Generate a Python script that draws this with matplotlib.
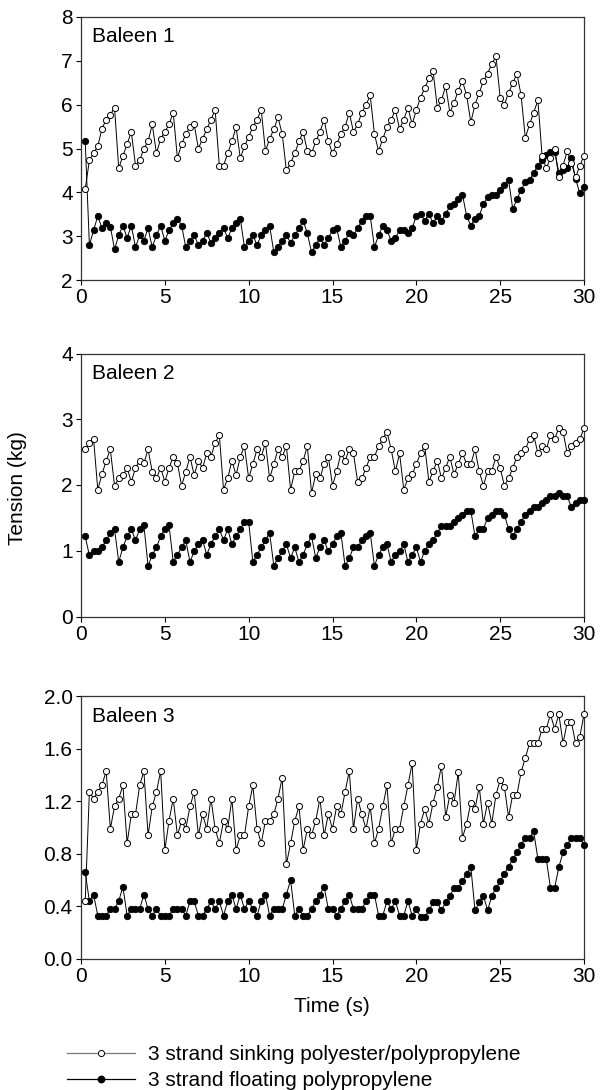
import numpy as np
import matplotlib
matplotlib.use('Agg')
import matplotlib.pyplot as plt
from matplotlib.lines import Line2D

plt.rcParams['font.family'] = ['Liberation Sans', 'DejaVu Sans']

# sample times (s): 0.25 s sampling, 120 samples
time_s = np.arange(1, 121) * 0.25

b1_sinking = [4.07, 4.73, 4.9, 5.05, 5.45, 5.66, 5.77, 5.93,
              4.55, 4.83, 5.1, 5.38,
              4.61, 4.73, 5.0, 5.16, 5.55,
              4.89, 5.22, 5.38, 5.55, 5.82,
              4.78, 5.1, 5.33, 5.49, 5.55,
              5.0, 5.22, 5.44, 5.66, 5.88,
              4.61, 4.61, 4.89, 5.16, 5.49,
              4.78, 5.05, 5.27, 5.49, 5.66, 5.88,
              4.94, 5.22, 5.44, 5.71, 5.33,
              4.5, 4.67, 4.89, 5.16, 5.38,
              4.94, 4.89, 5.16, 5.38, 5.66,
              5.16, 4.89, 5.1, 5.33, 5.49, 5.82,
              5.38, 5.55, 5.82, 6.0, 6.21,
              5.33, 4.94, 5.22, 5.49, 5.66, 5.88,
              5.44, 5.66, 5.93, 5.55, 5.88, 6.16, 6.38, 6.6, 6.77,
              5.93, 6.1, 6.43, 5.82, 6.04, 6.32, 6.54, 6.21, 5.6,
              6.0, 6.27, 6.54, 6.71, 6.93, 7.1,
              6.16, 6.0, 6.27, 6.49, 6.71, 6.21,
              5.24, 5.55, 5.82, 6.1,
              4.83, 4.55, 4.78, 5.0, 4.34, 4.61, 4.94, 4.67, 4.34, 4.61, 4.83]
b1_floating = [5.17, 2.8, 3.13, 3.46, 3.18, 3.3, 3.22, 2.7,
               3.02, 3.24, 2.96, 3.24, 2.75, 3.02, 2.9, 3.18, 2.75, 3.02, 3.24, 2.9, 3.13, 3.29, 3.4, 3.24,
               2.75, 2.9, 3.02, 2.8, 2.9, 3.07, 2.85, 2.96, 3.07, 3.18, 2.96, 3.18, 3.29, 3.4,
               2.75, 2.9, 3.02, 2.8, 3.02, 3.13, 3.24,
               2.63, 2.75, 2.9, 3.02, 2.85, 3.02, 3.18, 3.35, 3.07,
               2.63, 2.8, 2.96, 2.8, 2.96, 3.13, 3.18,
               2.75, 2.9, 3.07, 3.02, 3.18, 3.35, 3.46, 3.46,
               2.75, 3.02, 3.24, 3.13, 2.9, 2.96, 3.13, 3.13, 3.07, 3.18,
               3.46, 3.51, 3.35, 3.51, 3.29, 3.46, 3.35, 3.51, 3.68, 3.73, 3.84, 3.95,
               3.46, 3.24, 3.4, 3.46, 3.73, 3.89, 3.95, 3.95, 4.06, 4.17, 4.28,
               3.62, 3.84, 4.06, 4.23, 4.28, 4.45, 4.61, 4.74, 4.85, 4.93, 4.93,
               4.45, 4.5, 4.55, 4.78, 4.3, 3.98, 4.12]

b2_sinking = [2.54, 2.64, 2.7, 1.93, 2.16, 2.37, 2.54, 1.99, 2.1, 2.15,
              2.26, 2.05, 2.26, 2.37, 2.33, 2.54, 2.2, 2.1, 2.26, 2.05,
              2.26, 2.43, 2.33, 1.99, 2.2, 2.43, 2.15, 2.37, 2.26, 2.48,
              2.43, 2.64, 2.76, 1.93, 2.1, 2.37, 2.15, 2.43, 2.59, 2.1,
              2.32, 2.54, 2.43, 2.64, 2.1, 2.32, 2.54, 2.43, 2.59, 1.93,
              2.21, 2.21, 2.37, 2.59, 1.88, 2.16, 2.1, 2.32, 2.43, 1.99,
              2.21, 2.48, 2.37, 2.54, 2.48, 2.05, 2.1, 2.26, 2.43, 2.43,
              2.59, 2.7, 2.81, 2.54, 2.21, 2.48, 1.93, 2.1, 2.16, 2.32,
              2.48, 2.59, 2.05, 2.21, 2.37, 2.1, 2.26, 2.43, 2.16, 2.32,
              2.48, 2.32, 2.32, 2.54, 2.21, 1.99, 2.21, 2.21, 2.43, 2.26,
              1.99, 2.1, 2.26, 2.43, 2.48, 2.54, 2.7, 2.76, 2.48, 2.59,
              2.54, 2.76, 2.7, 2.87, 2.81, 2.48, 2.59, 2.64, 2.7, 2.86]
b2_floating = [1.22, 0.93, 0.99, 0.99, 1.05, 1.16, 1.27, 1.33, 0.83, 1.05,
               1.22, 1.33, 1.16, 1.33, 1.39, 0.77, 0.94, 1.05, 1.22, 1.33,
               1.39, 0.83, 0.94, 1.05, 1.16, 0.83, 0.99, 1.1, 1.16, 0.94,
               1.1, 1.22, 1.33, 1.16, 1.33, 1.1, 1.22, 1.33, 1.44, 1.44,
               0.83, 0.94, 1.05, 1.16, 1.27, 0.77, 0.89, 0.99, 1.1, 0.89,
               1.05, 0.83, 0.94, 1.1, 1.22, 0.89, 1.05, 1.16, 0.99, 1.1,
               1.22, 1.27, 0.77, 0.89, 1.05, 1.05, 1.16, 1.22, 1.27, 0.77,
               0.94, 1.05, 1.1, 0.83, 0.94, 0.99, 1.1, 0.83, 0.94, 1.05,
               0.83, 1.0, 1.1, 1.16, 1.27, 1.38, 1.38, 1.38, 1.44, 1.5,
               1.55, 1.61, 1.61, 1.22, 1.33, 1.33, 1.5, 1.55, 1.61, 1.61,
               1.55, 1.33, 1.22, 1.33, 1.44, 1.55, 1.61, 1.66, 1.66, 1.72,
               1.77, 1.83, 1.83, 1.88, 1.83, 1.83, 1.66, 1.72, 1.77, 1.77]

b3_sinking = [0.44, 1.27, 1.22, 1.27, 1.32, 1.43, 0.99, 1.16, 1.22, 1.32,
              0.88, 1.1, 1.1, 1.32, 1.43, 0.94, 1.16, 1.27, 1.43, 0.83,
              1.05, 1.22, 0.94, 1.05, 0.99, 1.16, 1.27, 0.94, 1.1, 0.99,
              1.22, 0.99, 0.88, 1.05, 0.99, 1.22, 0.83, 0.94, 0.94, 1.16,
              1.32, 0.99, 0.88, 1.05, 1.05, 1.1, 1.22, 1.38, 0.72, 0.88,
              1.05, 1.16, 0.83, 0.99, 0.94, 1.05, 1.22, 0.94, 1.1, 0.99,
              1.16, 1.1, 1.27, 1.43, 0.99, 1.22, 1.1, 0.99, 1.16, 0.88,
              0.99, 1.16, 1.32, 0.88, 0.99, 0.99, 1.16, 1.32, 1.49, 0.83,
              1.03, 1.14, 1.03, 1.19, 1.31, 1.47, 1.08, 1.25, 1.19, 1.42,
              0.92, 1.03, 1.19, 1.14, 1.31, 1.03, 1.19, 1.03, 1.25, 1.36,
              1.31, 1.08, 1.25, 1.25, 1.42, 1.53, 1.64, 1.64, 1.64, 1.75,
              1.75, 1.86, 1.75, 1.86, 1.64, 1.8, 1.8, 1.64, 1.69, 1.86]
b3_floating = [0.66, 0.44, 0.49, 0.33, 0.33, 0.33, 0.38, 0.38, 0.44, 0.55,
               0.33, 0.38, 0.38, 0.38, 0.49, 0.38, 0.33, 0.38, 0.33, 0.33,
               0.33, 0.38, 0.38, 0.38, 0.33, 0.44, 0.44, 0.33, 0.33, 0.38,
               0.44, 0.38, 0.44, 0.33, 0.44, 0.49, 0.38, 0.49, 0.38, 0.44,
               0.38, 0.33, 0.44, 0.49, 0.33, 0.38, 0.38, 0.38, 0.49, 0.6,
               0.33, 0.38, 0.33, 0.33, 0.38, 0.44, 0.49, 0.55, 0.38, 0.38,
               0.33, 0.38, 0.44, 0.49, 0.38, 0.38, 0.38, 0.44, 0.49, 0.49,
               0.33, 0.33, 0.44, 0.38, 0.44, 0.33, 0.33, 0.44, 0.33, 0.38,
               0.32, 0.32, 0.37, 0.43, 0.43, 0.37, 0.43, 0.48, 0.54, 0.54,
               0.59, 0.65, 0.7, 0.37, 0.43, 0.48, 0.37, 0.48, 0.54, 0.59,
               0.65, 0.7, 0.76, 0.81, 0.87, 0.92, 0.92, 0.97, 0.76, 0.76,
               0.76, 0.54, 0.54, 0.7, 0.81, 0.87, 0.92, 0.92, 0.92, 0.87]

panel_titles = ['Baleen 1', 'Baleen 2', 'Baleen 3']
sinking_series = [b1_sinking, b2_sinking, b3_sinking]
floating_series = [b1_floating, b2_floating, b3_floating]
y_limits = [(2, 8), (0, 4), (0, 2.0)]
y_ticks = [[2, 3, 4, 5, 6, 7, 8], [0, 1, 2, 3, 4], [0.0, 0.4, 0.8, 1.2, 1.6, 2.0]]
y_fmt = ['{:.0f}', '{:.0f}', '{:.1f}']
x_ticks = [0, 5, 10, 15, 20, 25, 30]
legend_labels = ['3 strand sinking polyester/polypropylene',
                 '3 strand floating polypropylene']

W, H = 600, 1090
fig = plt.figure(figsize=(W / 100, H / 100), dpi=100)

FS = 15
left_px, right_px = 81, 584
panel_h = 263
tops = [17, 353.5, 696]

for i in range(3):
    top = tops[i]
    ax = fig.add_axes([left_px / W, 1 - (top + panel_h) / H,
                       (right_px - left_px) / W, panel_h / H])
    ax.plot(time_s, floating_series[i], '-o', color='black', lw=0.7, ms=4.6,
            mfc='black', mec='black', mew=0.6, clip_on=False, zorder=3)
    ax.plot(time_s, sinking_series[i], '-o', color='black', lw=0.7, ms=4.4,
            mfc='white', mec='black', mew=0.7, clip_on=False, zorder=4)
    ax.set_xlim(0, 30)
    ax.set_ylim(*y_limits[i])
    ax.set_xticks(x_ticks)
    ax.set_xticklabels([str(x) for x in x_ticks])
    ax.set_yticks(y_ticks[i])
    ax.set_yticklabels([y_fmt[i].format(v) for v in y_ticks[i]])
    ax.tick_params(direction='out', length=3.5, width=0.8, labelsize=FS,
                   pad=2.5, top=False, right=False, colors='black')
    for s in ax.spines.values():
        s.set_linewidth(0.9)
        s.set_color('#333333')
    ax.text(11 / (right_px - left_px), 1 - 20 / panel_h, panel_titles[i],
            transform=ax.transAxes, ha='left', va='center', fontsize=FS)

fig.text(18 / W, 1 - 488 / H, 'Tension (kg)', rotation=90, ha='center',
         va='center', fontsize=FS)
fig.text(332 / W, 1 - 1006 / H, 'Time (s)', ha='center', va='center',
         fontsize=FS)

h1 = Line2D([], [], color='#777777', lw=0.9, marker='o', ms=4.4,
            mfc='white', mec='black', mew=0.7)
h2 = Line2D([], [], color='black', lw=0.9, marker='o', ms=4.6,
            mfc='black', mec='black')
fig.legend([h1, h2], legend_labels, loc='upper left',
           bbox_to_anchor=(67 / W, 1 - 1045 / H), frameon=False,
           handlelength=3.27, handletextpad=0.6, labelspacing=0.34,
           borderpad=0, borderaxespad=0, fontsize=FS, numpoints=1)

fig.savefig('out.png', dpi=100)
